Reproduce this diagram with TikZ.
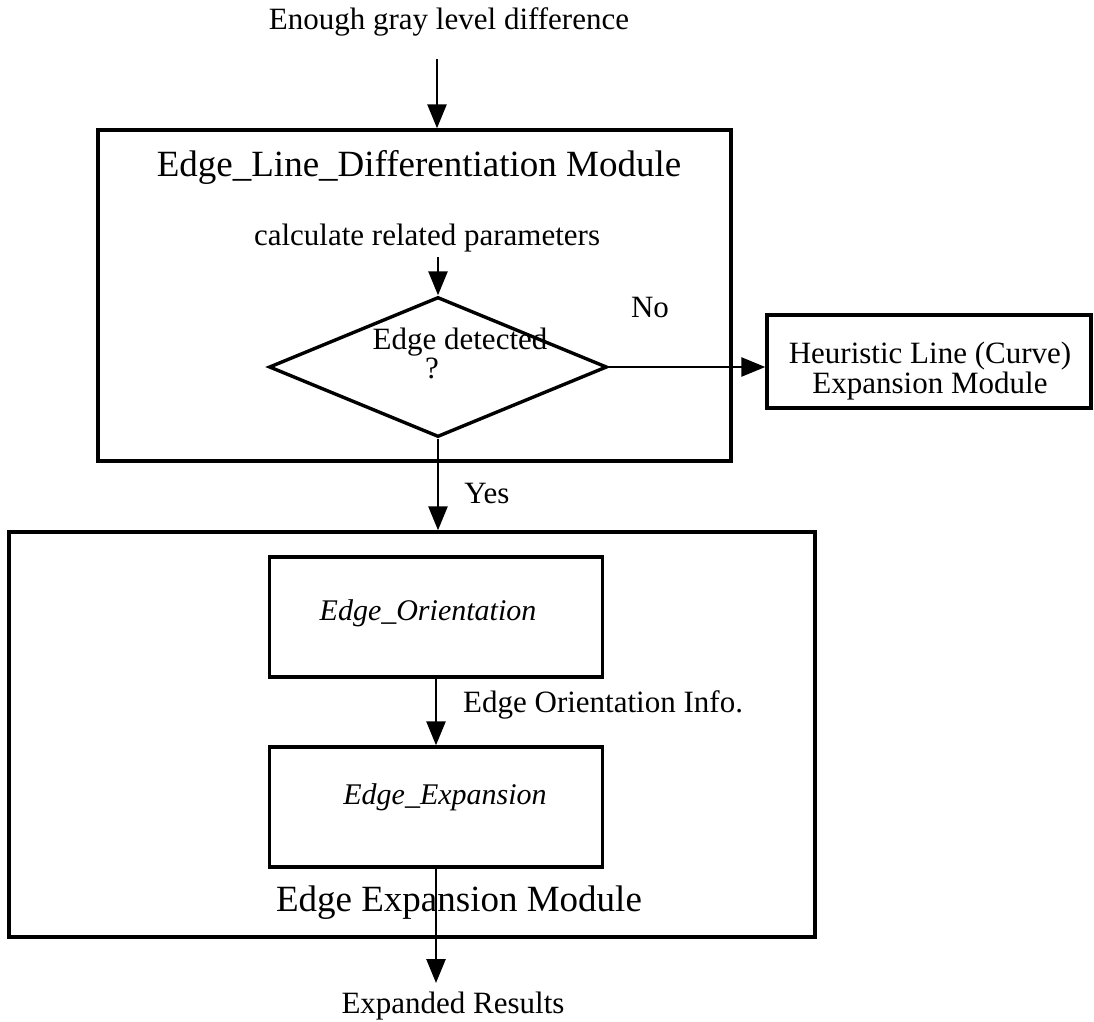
\documentclass[tikz,border=0pt]{standalone}
\usepackage{fontspec}
\setmainfont{Liberation Serif}
\usetikzlibrary{arrows.meta,shapes.geometric}
\begin{document}
\begin{tikzpicture}[x=1pt,y=-1pt,
  box/.style={draw,line width=3.4pt,inner sep=0pt},
  arr/.style={line width=2.6pt,-{Triangle[length=24pt,width=19pt]}},
  txt/.style={inner sep=0pt,font=\fontsize{31}{31}\selectfont},
  big/.style={inner sep=0pt,font=\fontsize{37}{37}\selectfont}]
\useasboundingbox (0,0) rectangle (1094,1021);
% top input
\node[txt] (enough) at (449,22) {Enough gray level difference};
\coordinate (in) at (437,59);
% differentiation module
\node[box,minimum width=633pt,minimum height=331pt] (dmod) at (414.5,295.5) {};
\node[big] (dtitle) at (419,167) {Edge\_Line\_Differentiation Module};
\node[txt] (calc) at (427,238) {calculate related parameters};
\coordinate (calcout) at (438,257);
\node[diamond,draw,line width=3.4pt,inner sep=0pt,minimum width=338pt,minimum height=140pt] (dia) at (438,367) {};
\node[txt] (dtext) at (460,342) {Edge detected};
\node[txt] (dq) at (432,368) {?};
\node[txt] (no) at (650,307) {No};
% heuristic module
\node[box,minimum width=324pt,minimum height=93pt] (heur) at (929,361.5) {};
\node[txt,align=center,font=\fontsize{31}{28}\selectfont] (heurtext) at (930,371) {Heuristic Line (Curve)\\Expansion Module};
% expansion module
\node[txt] (yes) at (487,493) {Yes};
\node[box,minimum width=806pt,minimum height=405pt] (emod) at (412,734.5) {};
\node[box,minimum width=333pt,minimum height=120pt] (eo) at (436,617) {};
\node[txt,font=\fontsize{30}{30}\selectfont\itshape] (eotext) at (428,613) {Edge\_Orientation};
\node[txt,anchor=west] (info) at (463,705) {Edge Orientation Info.};
\node[box,minimum width=333pt,minimum height=120pt] (ee) at (436,807) {};
\node[txt,font=\fontsize{30}{30}\selectfont\itshape] (eetext) at (445,797) {Edge\_Expansion};
\node[big] (emtitle) at (459,903) {Edge Expansion Module};
\node[txt] (res) at (453,1006) {Expanded Results};
\coordinate (out) at (437,983);
% connectors
\draw[arr] (in) -- (in |- dmod.north);
\draw[arr] (calcout) -- (dia.north);
\draw[arr] (dia.east) -- (dia.east -| heur.west);
\draw[arr] (dia.south) -- (dia.south |- emod.north);
\draw[arr] (eo.south) -- (ee.north);
\draw[arr] (ee.south) -- (ee.south |- out);
\end{tikzpicture}
\end{document}
